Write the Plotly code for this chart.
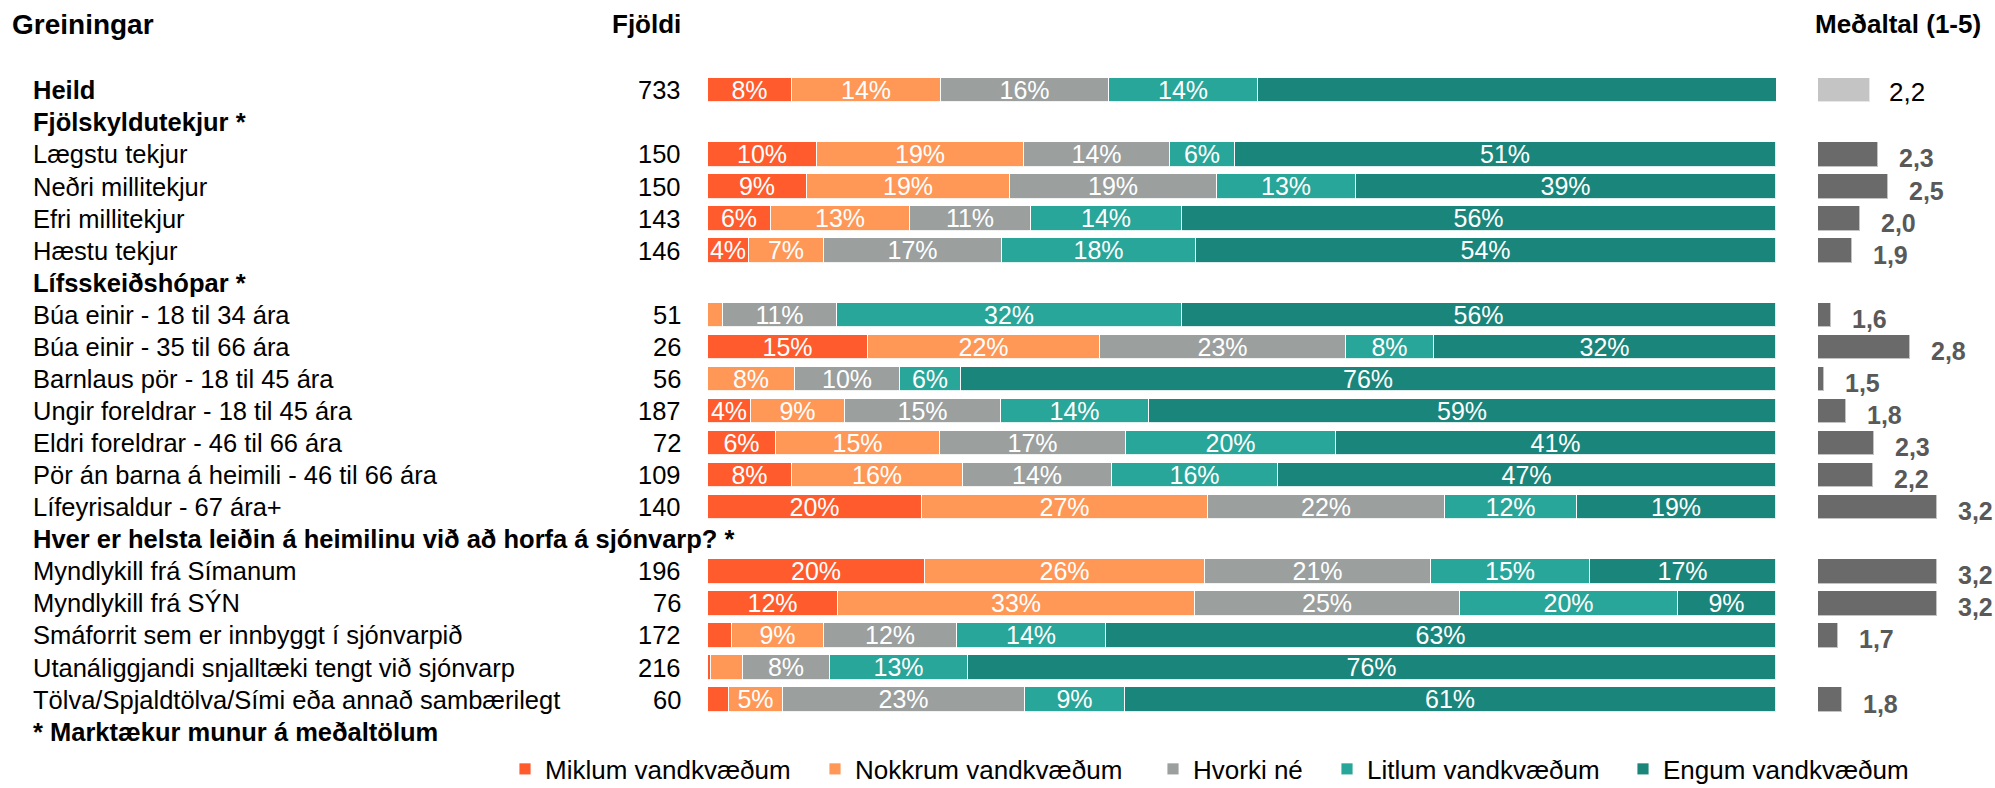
import plotly.graph_objects as go

W, H = 1995, 788
FONT = "Liberation Sans, Arial, sans-serif"

labels = [
    "Heild", "Fjölskyldutekjur *", "Lægstu tekjur", "Neðri millitekjur", "Efri millitekjur",
    "Hæstu tekjur", "Lífsskeiðshópar *", "Búa einir - 18 til 34 ára", "Búa einir - 35 til 66 ára",
    "Barnlaus pör - 18 til 45 ára", "Ungir foreldrar - 18 til 45 ára", "Eldri foreldrar - 46 til 66 ára",
    "Pör án barna á heimili - 46 til 66 ára", "Lífeyrisaldur - 67 ára+",
    "Hver er helsta leiðin á heimilinu við að horfa á sjónvarp? *",
    "Myndlykill frá Símanum", "Myndlykill frá SÝN", "Smáforrit sem er innbyggt í sjónvarpið",
    "Utanáliggjandi snjalltæki tengt við sjónvarp", "Tölva/Spjaldtölva/Sími eða annað sambærilegt",
    "* Marktækur munur á meðaltölum",
]
bold_rows = [True, True, False, False, False, False, True, False, False, False, False, False,
             False, False, True, False, False, False, False, False, True]
counts = [733, None, 150, 150, 143, 146, None, 51, 26, 56, 187, 72, 109, 140, None,
          196, 76, 172, 216, 60, None]

series_names = ["Miklum vandkvæðum", "Nokkrum vandkvæðum", "Hvorki né",
                "Litlum vandkvæðum", "Engum vandkvæðum"]
series_colors = ["#FF5B2C", "#FF9757", "#9BA09F", "#28A69A", "#1A867B"]

miklum = [7.9, None, 10.2, 9.3, 5.9, 3.8, None, 0.0, 15.0, 0.0, 4.0, 6.4, 7.9, 20.0, None,
          20.3, 12.2, 2.2, 0.3, 2.0, None]
nokkrum = [13.9, None, 19.4, 19.0, 13.0, 7.1, None, 1.4, 21.7, 8.1, 8.8, 15.3, 16.0, 26.8, None,
           26.2, 33.4, 8.7, 3.0, 5.0, None]
hvorki = [15.7, None, 13.7, 19.4, 11.3, 16.6, None, 10.7, 23.0, 9.9, 14.6, 17.4, 13.9, 22.2, None,
          21.2, 24.8, 12.4, 8.1, 22.7, None]
litlum = [14.0, None, 6.0, 13.0, 14.2, 18.2, None, 32.3, 8.3, 5.7, 13.9, 19.7, 15.6, 12.4, None,
          14.9, 20.4, 14.0, 12.9, 9.3, None]
engum = [48.6, None, 50.7, 39.3, 55.6, 54.3, None, 55.6, 32.0, 76.3, 58.7, 41.2, 46.6, 18.6, None,
         17.4, 9.2, 62.7, 75.7, 61.0, None]

means = [2.20, None, 2.32, 2.47, 2.04, 1.92, None, 1.60, 2.80, 1.50, 1.84, 2.26, 2.24, 3.20, None,
         3.20, 3.20, 1.71, 1.40, 1.77, None]

rows = list(range(len(labels)))
series = [miklum, nokkrum, hvorki, litlum, engum]


def px(p):
    """pixel x -> paper fraction"""
    return p / W


ROW0, ROWH = 90.3, 32.07


def prow(p):
    """pixel y -> row coordinate"""
    return (p - ROW0) / ROWH


legend_ids = ["legend", "legend2", "legend3", "legend4", "legend5"]
legend_sq_x = [520, 830, 1168, 1342, 1638]

fig = go.Figure()

for k, (name, color, vals) in enumerate(zip(series_names, series_colors, series)):
    txt = [("" if v is None or v < 3.5 else f"{v:.0f}%") for v in vals]
    fig.add_trace(go.Bar(
        y=rows, x=vals, orientation="h", name=name, width=0.76,
        marker=dict(color=color, line=dict(color="rgba(255,255,255,0.85)", width=1)),
        text=txt, textposition="inside", insidetextanchor="middle", textangle=0,
        constraintext="none", cliponaxis=False,
        textfont=dict(color="white", size=25, family=FONT),
        xaxis="x", yaxis="y", hoverinfo="skip", legend=legend_ids[k],
    ))

mean_colors = ["#C4C4C4" if i == 0 else "#6A6A6A" for i in rows]
fig.add_trace(go.Bar(
    y=rows, x=means, orientation="h", width=0.76, showlegend=False,
    marker=dict(color=mean_colors, line=dict(color="rgba(255,255,255,0.6)", width=1)),
    xaxis="x2", yaxis="y", hoverinfo="skip",
))

ann = []
ann.append(dict(text="<b>Greiningar</b>", x=px(10), xref="paper", y=prow(24), yref="y",
                xanchor="left", yanchor="middle", showarrow=False,
                font=dict(size=28, color="black", family=FONT)))
ann.append(dict(text="<b>Fjöldi</b>", x=px(683), xref="paper", y=prow(24), yref="y",
                xanchor="right", yanchor="middle", showarrow=False,
                font=dict(size=26, color="black", family=FONT)))
ann.append(dict(text="<b>Meðaltal (1-5)</b>", x=px(1983), xref="paper", y=prow(24), yref="y",
                xanchor="right", yanchor="middle", showarrow=False,
                font=dict(size=26, color="black", family=FONT)))

for i, lab in enumerate(labels):
    t = f"<b>{lab}</b>" if bold_rows[i] else lab
    ann.append(dict(text=t, x=px(31), xref="paper", y=i, yref="y", xanchor="left",
                    yanchor="middle", showarrow=False,
                    font=dict(size=25.5, color="black", family=FONT)))
    if counts[i] is not None:
        ann.append(dict(text=str(counts[i]), x=px(683), xref="paper", y=i, yref="y",
                        xanchor="right", yanchor="middle", showarrow=False,
                        font=dict(size=25.5, color="black", family=FONT)))
    if means[i] is not None:
        s = f"{means[i]:.1f}".replace(".", ",")
        if i == 0:
            ann.append(dict(text=s, x=means[i], xref="x2", y=i, yref="y", xanchor="left",
                            yanchor="middle", xshift=17, yshift=-2, showarrow=False,
                            font=dict(size=26, color="black", family=FONT)))
        else:
            ann.append(dict(text=f"<b>{s}</b>", x=means[i], xref="x2", y=i, yref="y",
                            xanchor="left", yanchor="middle", xshift=19, yshift=-4,
                            showarrow=False,
                            font=dict(size=25, color="#595959", family=FONT)))

layout_legends = {}
for lid, sx in zip(legend_ids, legend_sq_x):
    layout_legends[lid] = dict(
        orientation="h", x=px(sx - 15), xanchor="left", y=1 - 769 / H,
        yanchor="middle", font=dict(size=26, color="black", family=FONT),
        bgcolor="rgba(0,0,0,0)", itemclick=False, itemdoubleclick=False,
    )

fig.update_layout(
    width=W, height=H, margin=dict(l=0, r=0, t=0, b=0, autoexpand=False),
    paper_bgcolor="white", plot_bgcolor="white",
    barmode="stack", bargap=0,
    font=dict(family=FONT, color="black"),
    xaxis=dict(domain=[px(708), px(1776)], range=[0, 100], visible=False, fixedrange=True),
    xaxis2=dict(domain=[px(1818), 1.0], range=[1.41, 1.41 + (1995 - 1818) / 66.2],
                visible=False, anchor="y", fixedrange=True),
    yaxis=dict(domain=[0, 1], range=[prow(788), prow(0)], visible=False, fixedrange=True),
    annotations=ann,
    showlegend=True,
    **layout_legends,
)

fig.write_html(
    "out.html",
    config={"displayModeBar": False},
    post_script="document.body.style.margin='0px';document.body.style.overflow='hidden';",
)
